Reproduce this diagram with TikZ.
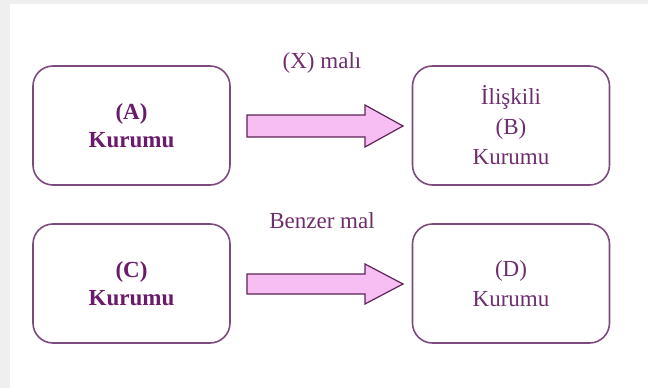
\documentclass[tikz,border=0pt]{standalone}
\usepackage{fontspec}
\setmainfont{Liberation Serif}
\definecolor{boxline}{HTML}{7D4A7D}
\definecolor{txtbold}{HTML}{6A1A6A}
\definecolor{txtreg}{HTML}{6E2E6E}
\definecolor{arrfill}{HTML}{F7BEF3}
\definecolor{arrline}{HTML}{5E2456}
\definecolor{bggray}{HTML}{EFEFEF}
\begin{document}
\begin{tikzpicture}[x=1pt,y=-1pt,
  kbox/.style={draw=boxline,line width=1.6pt,rounded corners=20pt,fill=white,
    minimum width=197pt,minimum height=119pt,align=center,inner sep=0pt},
  boldtxt/.style={text=txtbold,font=\fontsize{23}{28}\selectfont\bfseries},
  regtxt/.style={text=txtreg,font=\fontsize{23}{30}\selectfont},
  blockarrow/.style={draw=arrline,line width=1.2pt,fill=arrfill,line join=miter},
  lbl/.style={text=txtreg,font=\fontsize{23}{28}\selectfont,inner sep=0pt}]
\fill[bggray] (0,0) rectangle (648,388);
\fill[white] (10,4) rectangle (648,388);
\useasboundingbox (0,0) rectangle (648,388);
\node[kbox,boldtxt] (A) at (131.5,125.5) {(A)\\Kurumu};
\node[kbox,regtxt] (B) at (511,125.5) {İlişkili\\(B)\\Kurumu};
\node[kbox,boldtxt] (C) at (131.5,283.5) {(C)\\Kurumu};
\node[kbox,regtxt] (D) at (511,283.5) {(D)\\Kurumu};
\node[lbl] (X) at (322,63) {(X) malı};
\node[lbl] (Y) at (322,221) {Benzer mal};
\draw[blockarrow] (247,115) -- (365,115) -- (365,105) -- (403,126) -- (365,147) -- (365,137) -- (247,137) -- cycle;
\draw[blockarrow] (247,274) -- (365,274) -- (365,264) -- (403,284) -- (365,304) -- (365,294) -- (247,294) -- cycle;
\end{tikzpicture}
\end{document}
